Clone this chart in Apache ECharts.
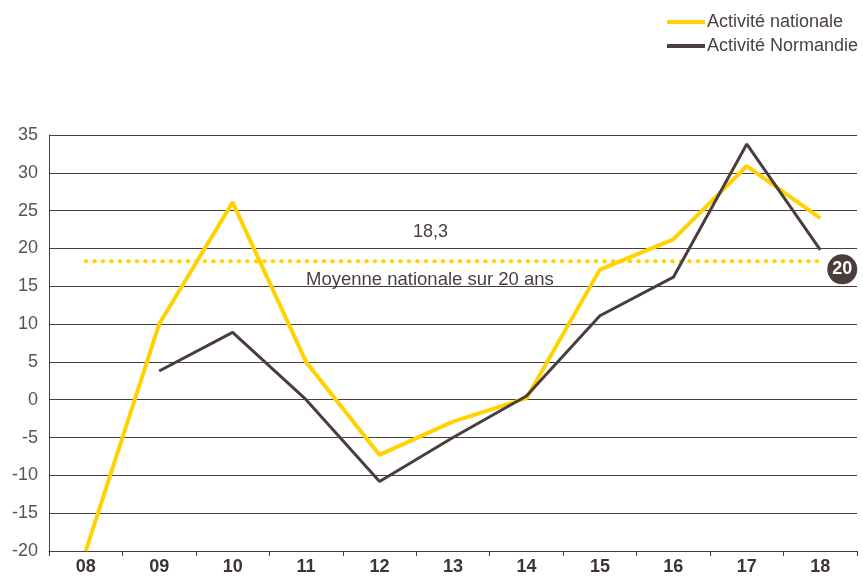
<!DOCTYPE html>
<html>
<head>
<meta charset="utf-8">
<script src="https://cdn.jsdelivr.net/npm/echarts@6/dist/echarts.min.js"></script>
<style>
  html, body { margin: 0; padding: 0; background: #fff; }
  #chart { width: 863px; height: 576px; }
</style>
</head>
<body>
<div id="chart"></div>
<script>
// values
const years = ['08', '09', '10', '11', '12', '13', '14', '15', '16', '17', '18'];
const nationale = [-20, 10, 26.1, 5, -7.3, -2.9, 0.2, 17.2, 21.2, 30.9, 24];
const normandie = [null, 3.8, 8.9, 0, -10.8, -5, 0.5, 11.1, 16.2, 33.8, 19.8];
const moyenne = 18.3;
const moyenneLine = years.map(() => moyenne);
const badgeText = '20';

const YELLOW = '#ffd200';
const BROWN = '#4a3d3d';
const TEXT = '#4a3f3f';
const FONT = '"Liberation Sans", Arial, sans-serif';

const chart = echarts.init(document.getElementById('chart'), null, { renderer: 'canvas' });

chart.setOption({
  animation: false,
  backgroundColor: '#fff',
  textStyle: { fontFamily: FONT },
  grid: { left: 49, right: 6, top: 135, bottom: 21, containLabel: false },
  legend: {
    orient: 'vertical',
    left: 662,
    top: 8,
    itemWidth: 38,
    itemHeight: 4,
    itemGap: 6,
    icon: 'rect',
    textStyle: { fontSize: 18, color: TEXT, fontFamily: FONT, padding: [0, 0, 0, -3] },
    data: ['Activité nationale', 'Activité Normandie']
  },
  xAxis: {
    type: 'category',
    data: years,
    boundaryGap: true,
    axisLine: { onZero: false, lineStyle: { color: BROWN, width: 1 } },
    axisTick: { show: true, length: 5, lineStyle: { color: BROWN } },
    axisLabel: { fontSize: 18, fontWeight: 'bold', color: '#3d3434', margin: 7, fontFamily: FONT },
    splitLine: { show: false }
  },
  yAxis: {
    type: 'value',
    min: -20,
    max: 35,
    interval: 5,
    axisLine: { show: true, lineStyle: { color: BROWN, width: 1 } },
    axisTick: { show: false },
    axisLabel: { fontSize: 18, color: '#555', margin: 11, fontFamily: FONT },
    splitLine: { show: true, lineStyle: { color: BROWN, width: 1 } }
  },
  series: [
    {
      name: 'Moyenne',
      type: 'line',
      data: moyenneLine,
      symbol: 'none',
      silent: true,
      z: 1,
      lineStyle: { color: YELLOW, width: 4, type: [0.5, 8], cap: 'round' },
      markPoint: {
        symbol: 'circle',
        symbolSize: 30,
        symbolOffset: [22, 8],
        itemStyle: { color: BROWN },
        label: { show: true, color: '#fff', fontSize: 18, fontWeight: 'bold', fontFamily: FONT },
        data: [{ coord: [years.length - 1, moyenne], value: badgeText }]
      }
    },
    {
      name: 'Activité nationale',
      type: 'line',
      data: nationale,
      symbol: 'none',
      z: 3,
      itemStyle: { color: YELLOW },
      lineStyle: { color: YELLOW, width: 4 }
    },
    {
      name: 'Activité Normandie',
      type: 'line',
      data: normandie,
      symbol: 'none',
      z: 4,
      itemStyle: { color: BROWN },
      lineStyle: { color: BROWN, width: 3 }
    }
  ],
  graphic: [
    {
      type: 'text',
      left: 413, top: 223,
      style: { text: '18,3', fontSize: 18, fill: TEXT, fontFamily: FONT }
    },
    {
      type: 'text',
      left: 306, top: 270,
      style: { text: 'Moyenne nationale sur 20 ans', fontSize: 18.5, fill: TEXT, fontFamily: FONT }
    }
  ]
});
</script>
</body>
</html>
